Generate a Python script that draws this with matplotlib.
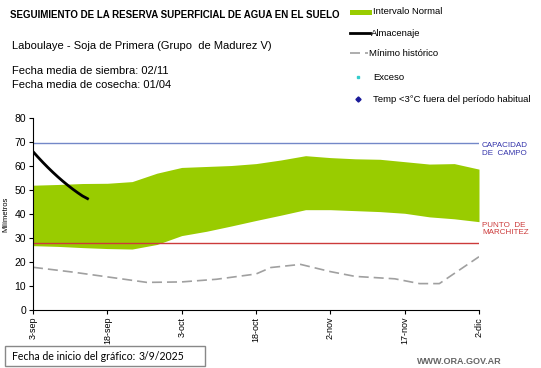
import matplotlib
matplotlib.use("Agg")
from matplotlib import pyplot as plt
from matplotlib.lines import Line2D
from matplotlib.patches import Rectangle

plt.rcParams['font.family'] = ['Liberation Sans', 'DejaVu Sans']

# dias desde el 3-sep
band_days = [0, 5, 10, 15, 20, 25, 30, 35, 40, 45, 50, 55, 60, 65, 70, 75, 80, 85, 90]
band_upper = [52, 52.3, 52.7, 52.8, 53.5, 57, 59.4, 59.8, 60.2, 61, 62.5, 64.3, 63.5, 63, 62.8, 61.8, 60.8, 61, 58.7]
band_lower = [26.8, 26.5, 26, 25.6, 25.4, 27.3, 31, 32.8, 35, 37.3, 39.5, 41.8, 41.8, 41.4, 41, 40.3, 38.8, 38, 36.8]

alm_days = [0, 1, 2, 3, 4, 5, 6, 7, 8, 9, 10, 11]
alm_vals = [66, 63.7, 61.5, 59.4, 57.4, 55.5, 53.7, 52.0, 50.4, 48.9, 47.5, 46.4]

min_days = [0, 8, 15, 23, 30, 37, 45, 48, 54, 60, 65, 73, 78, 82, 90]
min_vals = [17.8, 15.8, 13.8, 11.5, 11.7, 12.8, 15, 17.7, 19, 16, 14, 13, 11, 11, 22.2]

capacidad = 69.5
marchitez = 28

tick_days = [0, 15, 30, 45, 60, 75, 90]
tick_labels = ['3-sep', '18-sep', '3-oct', '18-oct', '2-nov', '17-nov', '2-dic']

W, H = 541, 368


def fx(px):
    return px / W


def fy(py):
    return 1 - py / H


fig = plt.figure(figsize=(W / 100, H / 100), dpi=100)
ax = fig.add_axes([fx(33), 58 / H, 446 / W, 192 / H])

ax.fill_between(band_days, band_lower, band_upper, color='#99cc00', linewidth=0)
ax.plot(min_days, min_vals, color='#a0a0a0', linewidth=1.2, dashes=(6, 3))
ax.plot(alm_days, alm_vals, color='black', linewidth=2)
ax.axhline(capacidad, color='#7388c8', linewidth=1)
ax.axhline(marchitez, color='#cc3b3b', linewidth=1)

ax.set_xlim(0, 90)
ax.set_ylim(0, 80)
ax.set_yticks(range(0, 81, 10))
ax.set_xticks(tick_days)
ax.set_xticklabels(tick_labels, rotation=90, fontsize=6.5)
ax.tick_params(axis='y', labelsize=7.5, length=3, pad=2)
ax.tick_params(axis='x', length=3, pad=2)
ax.spines['top'].set_visible(False)
ax.spines['right'].set_visible(False)
ax.set_ylabel('Milímetros', fontsize=5.5, labelpad=4)

ax.text(90.6, capacidad + 0.3, 'CAPACIDAD\nDE  CAMPO', color='#3333aa', fontsize=5.8,
        va='top', ha='left', linespacing=1.1, clip_on=False)
ax.text(90.6, marchitez + 8.8, 'PUNTO  DE\nMARCHITEZ', color='#cc3b3b', fontsize=5.8,
        va='top', ha='left', linespacing=1.1, clip_on=False)

fig.text(fx(10), fy(15), 'SEGUIMIENTO DE LA RESERVA SUPERFICIAL DE AGUA EN EL SUELO',
         fontsize=7.0, fontweight='bold', va='center')
fig.text(fx(12), fy(46), 'Laboulaye - Soja de Primera (Grupo  de Madurez V)',
         fontsize=8.0, va='center')
fig.text(fx(12), fy(71), 'Fecha media de siembra: 02/11', fontsize=8.0, va='center')
fig.text(fx(12), fy(85), 'Fecha media de cosecha: 01/04', fontsize=8.0, va='center')

# leyenda dibujada a mano
fig.add_artist(Rectangle((fx(350), fy(15)), 22 / W, 5 / H, transform=fig.transFigure,
                         facecolor='#99cc00', edgecolor='none'))
fig.text(fx(373), fy(12), 'Intervalo Normal', fontsize=6.8, va='center')
fig.add_artist(Line2D([fx(350), fx(370)], [fy(33), fy(33)], transform=fig.transFigure,
                      color='black', linewidth=2))
fig.text(fx(371), fy(33), 'Almacenaje', fontsize=6.8, va='center')
fig.add_artist(Line2D([fx(350), fx(368)], [fy(53), fy(53)], transform=fig.transFigure,
                      color='#a0a0a0', linewidth=1.2, dashes=(6, 3)))
fig.text(fx(369), fy(53), 'Mínimo histórico', fontsize=6.8, va='center')
fig.add_artist(Line2D([fx(358)], [fy(77)], transform=fig.transFigure, color='#33cccc',
                      marker='s', markersize=2, linestyle='none'))
fig.text(fx(373), fy(77), 'Exceso', fontsize=6.8, va='center')
fig.add_artist(Line2D([fx(358)], [fy(99)], transform=fig.transFigure, color='#1a1a99',
                      marker='D', markersize=2.6, linestyle='none'))
fig.text(fx(373), fy(99), 'Temp <3°C fuera del período habitual', fontsize=6.8, va='center')

fig.add_artist(Rectangle((fx(5), fy(366)), 200 / W, 20 / H, transform=fig.transFigure,
                         facecolor='white', edgecolor='#888888', linewidth=1))
fig.text(fx(12), fy(356), 'Fecha de inicio del gráfico:', fontsize=7.6,
         family='Lato', va='center')
fig.text(fx(139), fy(356), '3/9/2025', fontsize=7.6, family='Lato', va='center')
fig.text(fx(502), fy(361), 'WWW.ORA.GOV.AR', fontsize=6.5, fontweight='bold',
         color='#666666', ha='right', va='center')

fig.savefig('out.png', dpi=100)
